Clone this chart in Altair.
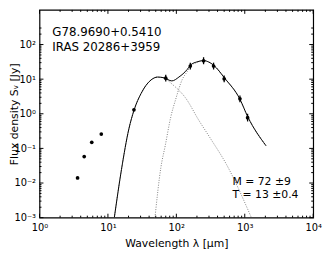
import altair as alt
import pandas as pd

obs_wav = [3.6, 4.5, 5.8, 8.0, 24, 70, 160, 250, 350, 500, 850, 1100]
obs_flux = [0.014, 0.058, 0.15, 0.26, 1.3, 10.7, 24, 34, 24, 10.2, 2.7, 0.77]
err_wav = [70, 160, 250, 350, 500, 850, 1100]
err_lo = [8.6, 19, 27, 19, 8.1, 2.15, 0.6]
err_hi = [13.4, 30, 43, 30, 12.8, 3.4, 1.0]

# ---- total model SED (solid) ----
tot_wav = [12.4, 15.8, 20.2, 24.1, 30.6, 42.7, 53.3, 66.5, 86, 109, 144, 161, 200, 250, 300, 349, 512, 842, 1112, 2040]
tot_flux = [0.001, 0.025, 0.36, 1.28, 3.9, 9.5, 11.5, 10.9, 8.9, 11.5, 19, 25.5, 31.5, 34.4, 31, 25.5, 10.5, 2.73, 0.80, 0.12]

# ---- warm component (dotted) ----
warm_wav = [12.4, 15.8, 20.2, 24.1, 30.6, 42.7, 53.3, 66.5, 87.6, 136, 212, 312, 542, 1250]
warm_flux = [0.001, 0.025, 0.36, 1.28, 3.9, 9.5, 11.5, 10.7, 7.05, 2.89, 0.66, 0.20, 0.034, 0.001]

# ---- cold component (dotted) ----
cold_wav = [48.7, 59.4, 68.8, 82.8, 97.7, 122, 144, 161, 200, 250, 300, 349, 512, 842, 1112, 2040]
cold_flux = [0.001, 0.028, 0.12, 0.80, 2.6, 9.8, 16.5, 23.8, 30.5, 34, 31, 25.5, 10.5, 2.73, 0.80, 0.12]

# ---- axis ticks ----
x_major = [1, 10, 100, 1000, 10000]
y_major = [0.001, 0.01, 0.1, 1, 10, 100]
x_minor = [m * 10 ** k for k in range(0, 4) for m in range(2, 10)]
y_minor = [m * 10.0 ** k for k in range(-3, 3) for m in range(2, 10) if m * 10.0 ** k < 330]

W, H = 278, 211
FONT = "DejaVu Sans"
xs = alt.Scale(type="log", domain=[1, 10000])
ys = alt.Scale(type="log", domain=[0.001, 330])

sup = ("'10' + replace(replace(replace(replace(replace(replace(''+round(log(datum.value)/LN10),"
       "'-','\u207b'),'0','\u2070'),'1','\u00b9'),'2','\u00b2'),'3','\u00b3'),'4','\u2074')")

obs = pd.DataFrame({"w": obs_wav, "f": obs_flux})
err = pd.DataFrame({"w": err_wav, "lo": err_lo, "hi": err_hi})
tot = pd.DataFrame({"w": tot_wav, "f": tot_flux})
warm = pd.DataFrame({"w": warm_wav, "f": warm_flux})
cold = pd.DataFrame({"w": cold_wav, "f": cold_flux})

X = alt.X("w:Q", scale=xs, axis=alt.Axis(values=x_major, labelExpr=sup, title="Wavelength \u03bb [\u03bcm]",
                                          grid=False, ticks=False, tickSize=0, domain=False,
                                          labelFont=FONT, labelFontSize=10, labelPadding=5, labelColor="black",
                                          titleFont=FONT, titleFontSize=11, titleFontWeight="normal",
                                          titlePadding=5, titleColor="black", labelFlush=False))
Y = alt.Y("f:Q", scale=ys, axis=alt.Axis(values=y_major, labelExpr=sup, title="Flux density S\u1d65 [Jy]",
                                          grid=False, ticks=False, tickSize=0, domain=False,
                                          labelFont=FONT, labelFontSize=10, labelPadding=4, labelColor="black",
                                          titleFont=FONT, titleFontSize=11, titleFontWeight="normal",
                                          titleX=-25.5, titleY=H / 2, titleAngle=-90, titleAlign="center",
                                          titleBaseline="middle", titleColor="black", labelFlush=False))

dotted = dict(color="#808080", strokeWidth=1, strokeDash=[1, 1.5], clip=True)
warm_l = alt.Chart(warm).mark_line(**dotted, interpolate="monotone").encode(x=X, y=Y)
cold_l = alt.Chart(cold).mark_line(**dotted, interpolate="monotone").encode(x="w:Q", y="f:Q")
tot_l = alt.Chart(tot).mark_line(color="black", strokeWidth=1, interpolate="monotone", clip=True).encode(x="w:Q", y="f:Q")
err_l = alt.Chart(err).mark_rule(color="black", strokeWidth=1.3).encode(x="w:Q", y="lo:Q", y2="hi:Q")
pts = alt.Chart(obs).mark_circle(color="black", size=14, opacity=1).encode(x="w:Q", y="f:Q")


def ticks_x(vals, L):
    d = pd.DataFrame({"w": vals})
    b = alt.Chart(d).mark_rule(color="black", strokeWidth=1).encode(x="w:Q", y=alt.value(H), y2=alt.value(H - L))
    t = alt.Chart(d).mark_rule(color="black", strokeWidth=1).encode(x="w:Q", y=alt.value(0), y2=alt.value(L))
    return [b, t]


def ticks_y(vals, L):
    d = pd.DataFrame({"f": vals})
    l = alt.Chart(d).mark_rule(color="black", strokeWidth=1).encode(y="f:Q", x=alt.value(0), x2=alt.value(L))
    r = alt.Chart(d).mark_rule(color="black", strokeWidth=1).encode(y="f:Q", x=alt.value(W), x2=alt.value(W - L))
    return [l, r]


def label(t, x, y, size):
    return alt.Chart(pd.DataFrame({"t": [t]})).mark_text(
        align="left", baseline="alphabetic", font=FONT, fontSize=size, color="black").encode(
        text="t:N", x=alt.value(x), y=alt.value(y))


txts = [label("G78.9690+0.5410", 13, 26.5, 12), label("IRAS 20286+3959", 13, 42, 12),
        label("M = 72 \u00b19", 196, 177.7, 11), label("T = 13 \u00b10.4", 196, 191, 11)]

layers = [warm_l, cold_l, tot_l, err_l, pts] + ticks_x(x_major, 4) + ticks_x(x_minor, 2) \
    + ticks_y(y_major, 4) + ticks_y(y_minor, 2) + txts

chart = alt.layer(*layers).properties(
    width=W, height=H,
    autosize=alt.AutoSizeParams(type="none"),
    padding={"left": 32, "top": 0, "right": 12, "bottom": 36},
    background="white",
).configure_view(stroke="black", strokeWidth=1.2)

chart.save("out.html", embed_options={"renderer": "svg", "actions": False})
